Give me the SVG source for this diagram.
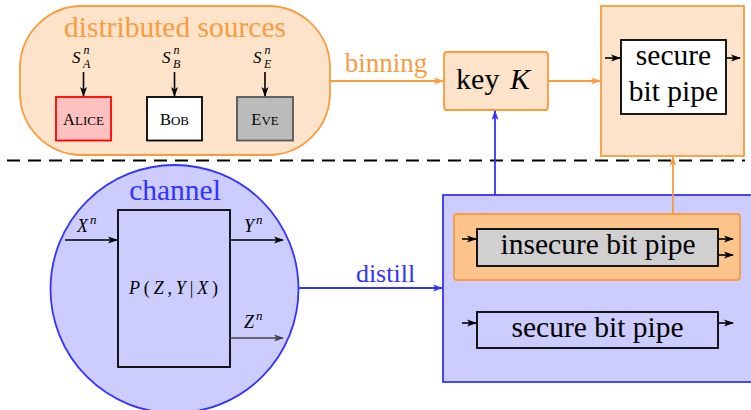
<svg xmlns="http://www.w3.org/2000/svg" width="751" height="410" viewBox="0 0 751 410">
<style>
.t{font-family:"Liberation Serif","Times New Roman",serif;}
.m{font-family:"Liberation Serif","Times New Roman",serif;font-style:italic;}
.blk{stroke:#000;stroke-width:1.6;fill:none;}
.org{stroke:#f89c3f;stroke-width:1.8;fill:none;}
.blu{stroke:#3333ff;stroke-width:1.8;fill:none;}
</style>
<defs>
<marker id="ab" viewBox="0 0 10 10" refX="9" refY="5" markerWidth="10" markerHeight="10" markerUnits="userSpaceOnUse" orient="auto"><path d="M0,1.5 L10,5 L0,8.5 L2.5,5 z" fill="#000"/></marker>
<marker id="ao" viewBox="0 0 10 10" refX="9" refY="5" markerWidth="10" markerHeight="10" markerUnits="userSpaceOnUse" orient="auto"><path d="M0,1.5 L10,5 L0,8.5 L2.5,5 z" fill="#f89c3f"/></marker>
<marker id="au" viewBox="0 0 10 10" refX="9" refY="5" markerWidth="10" markerHeight="10" markerUnits="userSpaceOnUse" orient="auto"><path d="M0,1.5 L10,5 L0,8.5 L2.5,5 z" fill="#3333ff"/></marker>
<marker id="ag" viewBox="0 0 10 10" refX="9" refY="5" markerWidth="10" markerHeight="10" markerUnits="userSpaceOnUse" orient="auto"><path d="M0,1.5 L10,5 L0,8.5 L2.5,5 z" fill="#444"/></marker>
</defs>

<!-- distributed sources -->
<g id="sources">
<rect x="20" y="6" width="310" height="149" rx="62" ry="62" fill="#fde3c9" stroke="#f89c3f" stroke-width="1.8"/>
<text class="t" x="175" y="37" font-size="29.5" fill="#f89c3f" text-anchor="middle">distributed sources</text>
<text class="m" x="72" y="62.5" font-size="17">S</text>
<text class="m" x="83.5" y="54" font-size="12">n</text>
<text class="m" x="83" y="67.5" font-size="12">A</text>
<text class="m" x="162" y="62.5" font-size="17">S</text>
<text class="m" x="173.5" y="54" font-size="12">n</text>
<text class="m" x="173" y="67.5" font-size="12">B</text>
<text class="m" x="253" y="62.5" font-size="17">S</text>
<text class="m" x="264.5" y="54" font-size="12">n</text>
<text class="m" x="264" y="67.5" font-size="12">E</text>
</g>
<g id="alice">
<rect x="56" y="97" width="55" height="43.5" fill="#ffc0c0" stroke="#ff0000" stroke-width="1.8"/>
<text class="t" x="83.5" y="124.5" font-size="16.5" text-anchor="middle">A<tspan font-size="13">LICE</tspan></text>
</g>
<g id="bob">
<rect x="147" y="97" width="55" height="43.5" fill="#fff" stroke="#000" stroke-width="1.8"/>
<text class="t" x="174.5" y="124.5" font-size="16.5" text-anchor="middle">B<tspan font-size="13">OB</tspan></text>
</g>
<g id="eve">
<rect x="237" y="97" width="56" height="43.5" fill="#bbbbbb" stroke="#555" stroke-width="1.8"/>
<text class="t" x="265" y="124.5" font-size="16.5" text-anchor="middle">E<tspan font-size="13">VE</tspan></text>
</g>

<!-- key -->
<g id="key">
<rect x="444" y="52" width="104" height="58" rx="3" fill="#fde3c9" stroke="#f89c3f" stroke-width="1.8"/>
<text class="t" x="493" y="88.5" font-size="30" text-anchor="middle">key <tspan font-style="italic" dx="3">K</tspan></text>
</g>

<!-- secure bit pipe top -->
<g id="secure-top">
<rect x="601" y="6" width="143" height="150" fill="#fde3c9" stroke="#f89c3f" stroke-width="1.8"/>
<rect x="621" y="40" width="105" height="74" fill="#fff" stroke="#000" stroke-width="1.8"/>
<text class="t" x="673.5" y="65" font-size="29.5" text-anchor="middle">secure</text>
<text class="t" x="673.5" y="101" font-size="29.5" text-anchor="middle">bit pipe</text>
</g>

<!-- channel -->
<g id="channel">
<circle cx="174.5" cy="289" r="124" fill="#ccccff" stroke="#3333ff" stroke-width="1.8"/>
<text class="t" x="175" y="200" font-size="29.5" fill="#3333ff" text-anchor="middle">channel</text>
<rect x="118" y="210" width="112" height="157" fill="#ccccff" stroke="#000" stroke-width="1.8"/>
<text class="m" x="129" y="293.5" font-size="18" textLength="89" lengthAdjust="spacing">P<tspan font-style="normal">(</tspan>Z<tspan font-style="normal">,</tspan>Y<tspan font-style="normal">|</tspan>X<tspan font-style="normal">)</tspan></text>
<text class="m" x="77" y="231.5" font-size="18">X<tspan font-size="13" dx="2" dy="-8">n</tspan></text>
<text class="m" x="244" y="231.5" font-size="18">Y<tspan font-size="13" dx="2" dy="-8">n</tspan></text>
<text class="m" x="244" y="328" font-size="18">Z<tspan font-size="13" dx="2" dy="-8">n</tspan></text>
</g>

<!-- distilled box -->
<g id="distilled">
<rect x="443" y="195" width="320" height="187" fill="#ccccff" stroke="#3333ff" stroke-width="1.8"/>
</g>
<g id="insecure">
<rect x="454" y="214" width="286" height="66" rx="3" fill="#fdc58c" stroke="#f89c3f" stroke-width="1.8"/>
<rect x="477" y="229" width="241" height="37" fill="#d0d0d0" stroke="#000" stroke-width="1.8"/>
<text class="t" x="598" y="253.5" font-size="29.5" text-anchor="middle">insecure bit pipe</text>
</g>
<g id="secure-bottom">
<rect x="477" y="312" width="241" height="36" fill="#ccccff" stroke="#000" stroke-width="1.8"/>
<text class="t" x="597.5" y="337" font-size="29.5" text-anchor="middle">secure bit pipe</text>
</g>

<!-- connectors -->
<g id="connectors">
<line x1="7" y1="160.5" x2="745" y2="160.5" stroke="#000" stroke-width="2" stroke-dasharray="13,8"/>
<line class="blk" x1="83.5" y1="72" x2="83.5" y2="96" marker-end="url(#ab)"/>
<line class="blk" x1="174.5" y1="72" x2="174.5" y2="96" marker-end="url(#ab)"/>
<line class="blk" x1="265" y1="72" x2="265" y2="96" marker-end="url(#ab)"/>
<line class="org" x1="330" y1="81" x2="443" y2="81" marker-end="url(#ao)"/>
<text class="t" x="386" y="72" font-size="27" fill="#f89c3f" text-anchor="middle">binning</text>
<line class="org" x1="548" y1="81" x2="600" y2="81" marker-end="url(#ao)"/>
<line class="blk" x1="605" y1="58" x2="620" y2="58" marker-end="url(#ab)" stroke-width="1.2"/>
<line class="blk" x1="726" y1="58" x2="740" y2="58" marker-end="url(#ab)" stroke-width="1.2"/>
<line class="blu" x1="495" y1="195" x2="495" y2="111" marker-end="url(#au)"/>
<line class="org" x1="673" y1="214" x2="673" y2="157" marker-end="url(#ao)" stroke-width="1.5"/>
<line class="blk" x1="65" y1="240" x2="117" y2="240" marker-end="url(#ab)"/>
<line class="blk" x1="230" y1="240" x2="283" y2="240" marker-end="url(#ab)"/>
<line x1="230" y1="338" x2="283" y2="338" stroke="#444" stroke-width="1.6" marker-end="url(#ag)"/>
<line class="blu" x1="298" y1="288" x2="442" y2="288" marker-end="url(#au)"/>
<text class="t" x="385.5" y="281.5" font-size="26" fill="#3333ff" text-anchor="middle">distill</text>
<line class="blk" x1="462" y1="239" x2="476" y2="239" marker-end="url(#ab)" stroke-width="1.2"/>
<line class="blk" x1="718" y1="239" x2="733" y2="239" marker-end="url(#ab)" stroke-width="1.2"/>
<line class="blk" x1="718" y1="255" x2="733" y2="255" marker-end="url(#ab)" stroke-width="1.2"/>
<line class="blk" x1="462" y1="323" x2="476" y2="323" marker-end="url(#ab)" stroke-width="1.2"/>
<line class="blk" x1="718" y1="323" x2="733" y2="323" marker-end="url(#ab)" stroke-width="1.2"/>
</g>
</svg>
